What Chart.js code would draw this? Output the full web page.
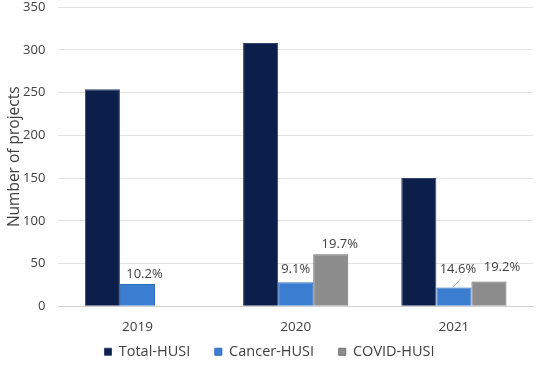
<!DOCTYPE html>
<html>
<head>
<meta charset="utf-8">
<script src="https://cdn.jsdelivr.net/npm/chart.js@4"></script>
<style>
  html, body { margin: 0; padding: 0; background: #fff; }
  #wrap { width: 536px; height: 367px; position: relative; }
</style>
</head>
<body>
<div id="wrap"><canvas id="chart"></canvas></div>
<script>
// === Data ===
const years = ['2019', '2020', '2021'];
const totalHusi = [254, 308, 150];
const cancerHusi = [26, 28, 22];
const covidHusi = [0, 61, 29];
const cancerPct = ['10.2%', '9.1%', '14.6%'];
const covidPct = ['', '19.7%', '19.2%'];
const yTicks = [0, 50, 100, 150, 200, 250, 300, 350];

const textColor = '#404040';
const fontFamily = "'Open Sans', 'Noto Sans', sans-serif";

// === Percentage labels above bars (Excel style, some nudged) ===
const pctLabels = {
  id: 'pctLabels',
  afterDatasetsDraw(chart, args, opts) {
    const ctx = chart.ctx;
    ctx.save();
    ctx.font = '13px ' + fontFamily;
    ctx.fillStyle = textColor;
    ctx.textAlign = 'center';
    ctx.textBaseline = 'middle';
    opts.sets.forEach(set => {
      const meta = chart.getDatasetMeta(set.index);
      meta.data.forEach((bar, i) => {
        const txt = set.labels[i];
        if (!txt) return;
        const [dx, dy] = set.offsets[i];
        const x = bar.x + dx;
        const y = bar.y - dy;
        ctx.fillText(txt, x, y);
        if (set.leader && set.leader[i]) {
          ctx.strokeStyle = '#a6a6a6';
          ctx.lineWidth = 1;
          ctx.beginPath();
          ctx.moveTo(bar.x - 1, bar.y);
          ctx.lineTo(x + 3, y + 9);
          ctx.stroke();
        }
      });
    });
    ctx.restore();
  }
};

const ctx = document.getElementById('chart').getContext('2d');
new Chart(ctx, {
  type: 'bar',
  data: {
    labels: years,
    datasets: [
      {
        label: 'Total-HUSI',
        data: totalHusi,
        backgroundColor: '#0c1f4a',
        borderColor: '#33436a',
        borderWidth: 1
      },
      {
        label: 'Cancer-HUSI',
        data: cancerHusi,
        backgroundColor: '#3b7dd0',
        borderColor: '#2f6dbd',
        borderWidth: 1
      },
      {
        label: 'COVID-HUSI',
        data: covidHusi,
        backgroundColor: '#8c8c8c',
        borderColor: '#6e6e6e',
        borderWidth: 1
      }
    ]
  },
  options: {
    responsive: true,
    maintainAspectRatio: false,
    animation: false,
    layout: { padding: { left: 6, right: 3, top: 0, bottom: -2 } },
    datasets: {
      bar: { categoryPercentage: 0.665, barPercentage: 1.0 }
    },
    scales: {
      x: {
        grid: { display: false, drawTicks: false },
        border: { display: true, color: '#d0d0d0', width: 1 },
        ticks: { color: textColor, font: { family: fontFamily, size: 13.5 }, padding: 13 },
        afterFit: scale => { scale.height -= 6; }
      },
      y: {
        min: 0,
        max: 350,
        afterBuildTicks: axis => { axis.ticks = yTicks.map(v => ({ value: v })); },
        grid: { color: '#e3e3e3', drawTicks: true, tickLength: 13, tickColor: 'rgba(0,0,0,0)' },
        border: { display: false },
        ticks: { color: textColor, font: { family: fontFamily, size: 13, lineHeight: 1.1 }, padding: 0 },
        title: {
          display: true,
          text: 'Number of projects',
          color: textColor,
          font: { family: fontFamily, size: 15.5, lineHeight: 1.1 },
          padding: { top: 0, bottom: 0 }
        }
      }
    },
    plugins: {
      legend: {
        position: 'bottom',
        labels: {
          color: textColor,
          font: { family: fontFamily, size: 14.5 },
          boxWidth: 7,
          boxHeight: 7,
          padding: 2,
          generateLabels: chart => {
            const items = Chart.defaults.plugins.legend.labels.generateLabels(chart);
            items.forEach((it, i) => { if (i < items.length - 1) it.text += '      '; });
            return items;
          }
        }
      },
      tooltip: { enabled: false },
      pctLabels: {
        sets: [
          { index: 1, labels: cancerPct, offsets: [[7, 10], [0, 13], [4, 18]], leader: [false, false, true] },
          { index: 2, labels: covidPct, offsets: [[0, 10], [9, 10], [13, 14]] }
        ]
      }
    }
  },
  plugins: [pctLabels]
});
</script>
</body>
</html>
